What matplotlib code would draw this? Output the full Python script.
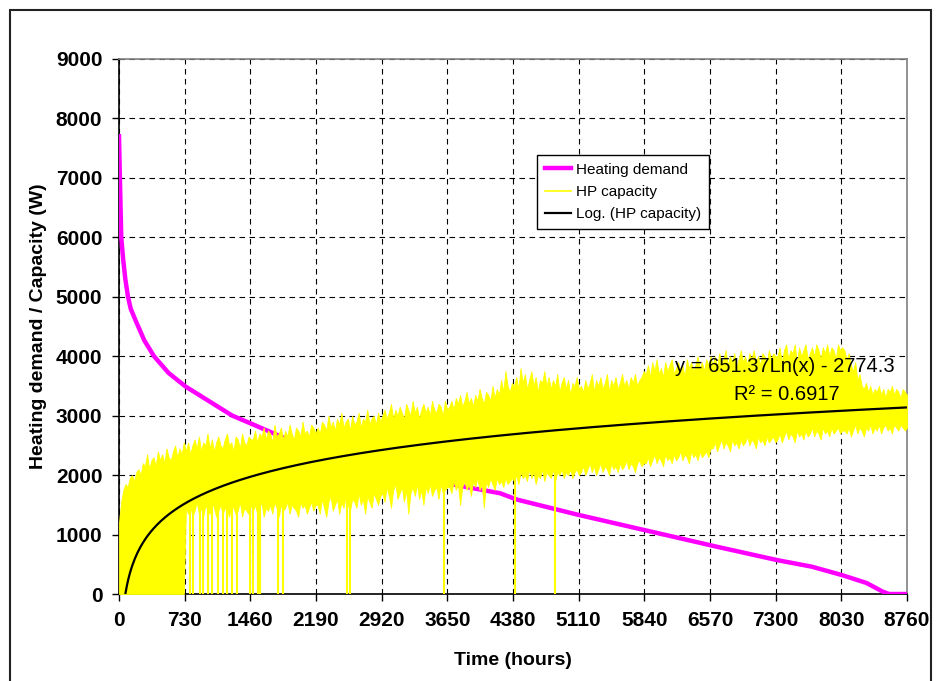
import matplotlib.pyplot as plt
import numpy as np
from matplotlib.lines import Line2D
from matplotlib.patches import Rectangle

plt.rcParams['font.family'] = ['Liberation Sans', 'DejaVu Sans']

# heating demand duration curve (hours, W)
demand_hours = [0, 10, 25, 45, 70, 100, 130, 185, 280, 389, 550, 740, 1037, 1260,
                1463, 1890, 2190, 2500, 2920, 3215, 3650, 4236, 4420, 5110, 5837,
                6641, 7311, 7700, 8033, 8311, 8489, 8560, 8760]
demand_w = [7700, 7000, 6000, 5650, 5300, 5000, 4800, 4600, 4270, 4000, 3720, 3490,
            3210, 3000, 2870, 2590, 2470, 2340, 2170, 2010, 1860, 1695, 1590, 1330,
            1077, 797, 572, 460, 320, 185, 40, 0, 0]

# HP capacity: daily max / min of the hourly series, one value per 24 h
hp_high = [
    1200, 1550, 1750, 1850, 1800, 1950, 2000, 1900, 2050, 2100, 2000, 2200, 2150, 2350, 2100, 2250,
    2300, 2150, 2400, 2250, 2350, 2200, 2450, 2300, 2250, 2400, 2500, 2300, 2450, 2350, 2550,
    2400, 2550, 2350, 2500, 2600, 2450, 2650, 2400, 2550, 2500, 2700, 2450, 2600, 2400, 2550, 2650,
    2500, 2450, 2600, 2700, 2500, 2550, 2400, 2650, 2600, 2450, 2700, 2550, 2500, 2650, 2600,
    2600, 2750, 2550, 2700, 2650, 2800, 2600, 2750, 2700, 2550, 2850, 2650, 2700, 2800, 2600,
    2750, 2650, 2850, 2700, 2600, 2800, 2750, 2650, 2900, 2700, 2750, 2650, 2850, 2800, 2700,
    2800, 2700, 2900, 2850, 2750, 3000, 2800, 2900, 2750, 2950, 2850, 3050, 2800, 2900, 2950,
    2750, 3000, 2850, 2900, 3050, 2800, 2950, 2900, 3100, 2850, 2950, 3000, 2850, 3050, 2900,
    3000, 3100, 2950, 3050, 3200, 2950, 3100, 3000, 3150, 3050, 2950, 3200, 3100, 3000, 3250, 3050,
    3150, 2950, 3100, 3200, 3050, 3150, 3000, 3250, 3100, 3050, 3200, 3150, 3000, 3250, 3100,
    3150, 3250, 3100, 3300, 3200, 3350, 3150, 3250, 3400, 3200, 3300, 3150, 3350, 3250, 3450,
    3300, 3200, 3400, 3350, 3250, 3500, 3300, 3450, 3350, 3600, 3400, 3750, 3500, 3400, 3550,
    3500, 3650, 3450, 3800, 3550, 3700, 3450, 3600, 3750, 3500, 3650, 3400, 3600, 3550, 3750, 3500,
    3650, 3450, 3600, 3500, 3700, 3400, 3550, 3650, 3450, 3600, 3350, 3550, 3500, 3650, 3450,
    3500, 3400, 3600, 3450, 3550, 3700, 3400, 3600, 3500, 3650, 3450, 3550, 3700, 3400, 3600,
    3500, 3650, 3450, 3550, 3700, 3500, 3600, 3450, 3650, 3550, 3700, 3500, 3600, 3650, 3750,
    3700, 3850, 3650, 3900, 3750, 3950, 3700, 3800, 3650, 3900, 3750, 3850, 3950, 3700, 3800, 3900,
    3750, 3850, 3650, 3950, 3800, 3900, 3750, 3850, 4000, 3800, 3900, 3750, 3950, 3850, 4000,
    3850, 4000, 3800, 4050, 3900, 3950, 4100, 3850, 4000, 3900, 4050, 3800, 3950, 4100, 3900,
    4000, 3850, 4050, 3950, 4100, 3900, 4000, 3850, 4050, 4000, 3900, 4100, 3950, 4050, 4000,
    4000, 4150, 3900, 4100, 4200, 3950, 4100, 4050, 4200, 3900, 4150, 4000, 4100, 4200, 3950, 4050,
    4150, 4000, 4200, 4100, 3950, 4150, 4050, 4200, 4000, 4150, 4100, 3950, 4200, 4100, 4150,
    4100, 3950, 4050, 3850, 3750, 3900, 3600, 3700, 3500, 3450, 3550, 3400, 3500, 3350, 3450,
    3400, 3500, 3350, 3450, 3300, 3450, 3400, 3500, 3350, 3450, 3400, 3300, 3450, 3400, 3350,
]
hp_low = [
    0, 0, 0, 0, 0, 0, 0, 0, 0, 0, 0, 0, 0, 0, 0, 0,
    0, 0, 0, 0, 0, 0, 0, 0, 0, 0, 0, 0, 0, 0, 0,
    1450, 1350, 1500, 1300, 1400, 1550, 1350, 1450, 1300, 1500, 1400, 1350, 1550, 1450, 1300, 1400,
    1500, 1350, 1450, 1400, 1300, 1500, 1450, 1350, 1400, 1550, 1300, 1450, 1400, 1350, 1500,
    1400, 1500, 1350, 1450, 1550, 1300, 1450, 1400, 1500, 1350, 1550, 1450, 1300, 1500, 1400,
    1450, 1550, 1350, 1500, 1450, 1400, 1300, 1550, 1450, 1500, 1350, 1450, 1550, 1400, 1500,
    1500, 1350, 1600, 1450, 1300, 1550, 1650, 1400, 1500, 1600, 1350, 1550, 1450, 1650, 1500,
    1400, 1600, 1550, 1450, 1700, 1500, 1600, 1350, 1650, 1550, 1450, 1700, 1600, 1500, 1650,
    1700, 1550, 1800, 1650, 1450, 1750, 1850, 1600, 1700, 1800, 1550, 1750, 1350, 1700, 1800, 1650,
    1850, 1600, 1750, 1500, 1800, 1700, 1850, 1650, 1750, 1800, 1600, 1850, 1700, 1750, 1800,
    1800, 1700, 1900, 1750, 1850, 1500, 1800, 1900, 1750, 1850, 1650, 1900, 1800, 1950, 1750,
    1850, 1450, 1900, 1800, 1950, 1850, 1750, 1950, 1850, 1900, 1800, 1950, 1850, 1900, 1950,
    1900, 2000, 1850, 2050, 1950, 2000, 1900, 2100, 1950, 2050, 1850, 2000, 1950, 2100, 1900, 2050,
    2000, 1950, 2100, 1900, 2050, 2000, 2100, 1950, 2050, 2000, 2100, 1950, 2050, 2100, 2000,
    2050, 2150, 2000, 2100, 2200, 2050, 2150, 2000, 2100, 2200, 2050, 2150, 2100, 2000, 2200,
    2100, 2150, 2050, 2200, 2100, 2150, 2250, 2100, 2200, 2150, 2050, 2200, 2250, 2150, 2200,
    2200, 2300, 2150, 2250, 2350, 2200, 2300, 2250, 2150, 2350, 2250, 2300, 2200, 2350, 2250, 2300,
    2400, 2250, 2350, 2300, 2200, 2400, 2300, 2350, 2250, 2400, 2300, 2350, 2400, 2300, 2450,
    2450, 2550, 2400, 2500, 2600, 2450, 2550, 2500, 2400, 2600, 2500, 2550, 2450, 2600, 2500,
    2550, 2650, 2500, 2600, 2550, 2450, 2650, 2550, 2600, 2500, 2650, 2550, 2600, 2650, 2550,
    2600, 2700, 2550, 2650, 2750, 2600, 2700, 2650, 2550, 2750, 2650, 2700, 2600, 2750, 2650, 2700,
    2800, 2650, 2750, 2700, 2600, 2800, 2700, 2750, 2650, 2800, 2700, 2750, 2800, 2700, 2750,
    2750, 2700, 2800, 2650, 2750, 2850, 2700, 2800, 2750, 2650, 2800, 2750, 2850, 2700, 2800,
    2750, 2850, 2700, 2800, 2850, 2750, 2800, 2700, 2850, 2800, 2750, 2850, 2800, 2750, 2800,
]
hp_hours = np.linspace(0, 8760, len(hp_high))

# single hours where the HP capacity drops to zero
hp_dropout_hours = [789, 826, 900, 937, 993, 1030, 1104, 1159, 1196, 1252, 1307, 1456,
                    1493, 1548, 1567, 1770, 1826, 2533, 2567, 3610, 4400, 4848]

# Excel logarithmic trendline coefficients: y = a*ln(x) + b
trend_a = 651.37
trend_b = -2774.3
trend_r2 = 0.6917

x_ticks = [0, 730, 1460, 2190, 2920, 3650, 4380, 5110, 5840, 6570, 7300, 8030, 8760]
y_ticks = [0, 1000, 2000, 3000, 4000, 5000, 6000, 7000, 8000, 9000]

yellow = '#FFFF00'
magenta = '#FF00FF'

fig = plt.figure(figsize=(9.36, 6.81), dpi=100)
fig.patches.append(Rectangle((10 / 936, -0.02), 921 / 936, 1.02 - 10 / 681,
                             transform=fig.transFigure, fill=False,
                             edgecolor='#222222', linewidth=1.5))

ax = fig.add_axes([119 / 936, 1 - 594 / 681, 788 / 936, 535 / 681])

ax.plot(demand_hours, demand_w, color=magenta, linewidth=3.2,
        solid_joinstyle='round', zorder=3)

# hourly HP capacity is so dense it reads as a band between daily min and max
ax.fill_between(hp_hours, hp_low, hp_high, color=yellow, linewidth=0.6,
                edgecolor=yellow, zorder=4)
drop_top = np.interp(hp_dropout_hours, hp_hours, hp_low) + 100
ax.vlines(hp_dropout_hours, 0, drop_top, color=yellow, linewidth=1.5, zorder=4)

trend_x = np.linspace(1, 8760, 600)
trend_y = trend_a * np.log(trend_x) + trend_b
ax.plot(trend_x, trend_y, color='black', linewidth=1.6, zorder=5)

ax.set_xlim(0, 8760)
ax.set_ylim(0, 9000)
ax.set_xticks(x_ticks)
ax.set_yticks(y_ticks)
ax.tick_params(direction='out', length=5, width=1, pad=7, labelsize=15)
for lbl in ax.get_xticklabels() + ax.get_yticklabels():
    lbl.set_fontweight('bold')

ax.grid(True, color='black', linestyle=(0, (5, 4)), linewidth=0.8, zorder=1)
ax.set_axisbelow(True)
for side in ['left', 'bottom']:
    ax.spines[side].set_color('black')
    ax.spines[side].set_linewidth(1.2)
for side in ['top', 'right']:
    ax.spines[side].set_color('#808080')
    ax.spines[side].set_linewidth(1.2)

ax.set_xlabel('Time (hours)', fontsize=14, fontweight='bold')
ax.set_ylabel('Heating demand / Capacity (W)', fontsize=14, fontweight='bold')
ax.xaxis.set_label_coords(0.5, -0.108)
ax.yaxis.set_label_coords(-0.092, 0.5)

# trendline equation, placed in the top-right of the band like Excel does
ax.text(0.705 * 8760, 0.4243 * 9000, 'y = %.2fLn(x) - %.1f' % (trend_a, -trend_b),
        fontsize=14.5, va='center', ha='left', zorder=6)
ax.text(0.847 * 8760, 0.3720 * 9000, 'R² = %.4f' % trend_r2,
        fontsize=14.5, va='center', ha='center', zorder=6)

handles = [Line2D([], [], color=magenta, linewidth=3.2),
           Line2D([], [], color=yellow, linewidth=1.2),
           Line2D([], [], color='black', linewidth=1.6)]
labels = ['Heating demand', 'HP capacity', 'Log. (HP capacity)']
leg = ax.legend(handles, labels, loc='upper left', bbox_to_anchor=(0.5305, 0.8206),
                fontsize=11, frameon=True, fancybox=False, shadow=False, framealpha=1,
                edgecolor='black', handlelength=1.75, handletextpad=0.3,
                borderpad=0.5, labelspacing=0.55, borderaxespad=0)
leg.get_frame().set_linewidth(1.0)
leg.set_zorder(7)

fig.savefig('out.png', dpi=100)
